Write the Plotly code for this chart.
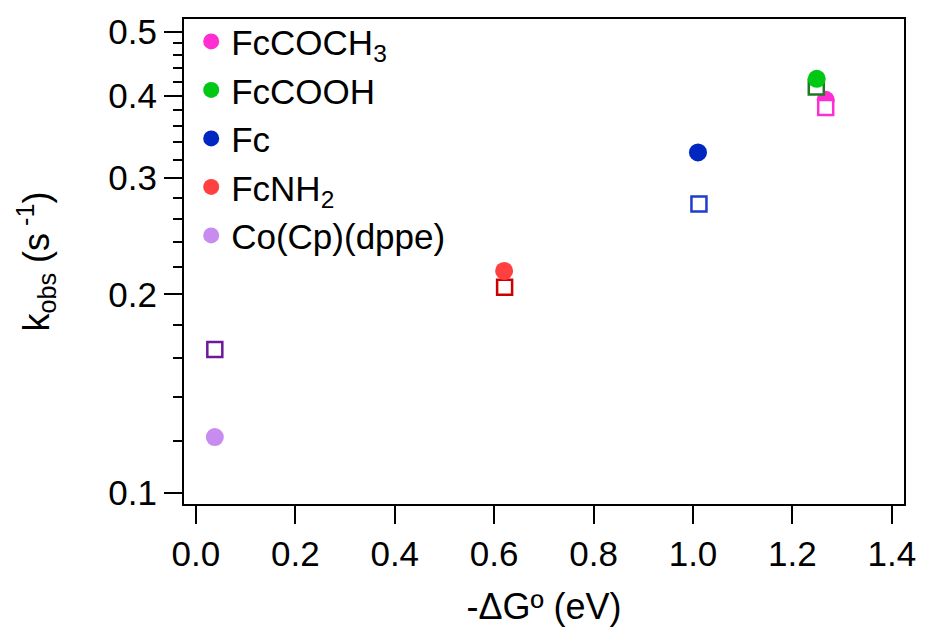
import plotly.graph_objects as go
import numpy as np

# Data
names = ["FcCOCH<sub>3</sub>", "FcCOOH", "Fc", "FcNH<sub>2</sub>", "Co(Cp)(dppe)"]
dG = [1.267, 1.249, 1.010, 0.620, 0.038]
k_circle = [0.394, 0.424, 0.328, 0.217, 0.1216]
dG_sq = [1.267, 1.248, 1.012, 0.621, 0.038]
k_square = [0.3836, 0.412, 0.274, 0.205, 0.165]
circle_colors = ["#FF2DD2", "#00C814", "#0028C0", "#FF4040", "#C88CF0"]
square_colors = ["#FF2DD2", "#1E7A1E", "#1E3CD0", "#CC0000", "#6A1A9A"]

y_major = [0.1, 0.2, 0.3, 0.4, 0.5]
y_major_text = ["0.1", "0.2", "0.3", "0.4", "0.5"]
y_minor = [0.12, 0.14, 0.16, 0.18, 0.22, 0.24, 0.26, 0.28,
           0.32, 0.34, 0.36, 0.38, 0.42, 0.44, 0.46, 0.48]
x_ticks = [0.0, 0.2, 0.4, 0.6, 0.8, 1.0, 1.2, 1.4]
x_ticktext = ["0.0", "0.2", "0.4", "0.6", "0.8", "1.0", "1.2", "1.4"]

fig = go.Figure()

def circle(i, rank):
    fig.add_trace(go.Scatter(
        x=[dG[i]], y=[k_circle[i]], mode="markers", name=names[i],
        marker=dict(symbol="circle", size=18, color=circle_colors[i], line=dict(width=0)),
        legendrank=rank, showlegend=True))

def square(i):
    fig.add_trace(go.Scatter(
        x=[dG_sq[i]], y=[k_square[i]], mode="markers", name=names[i] + " sq",
        marker=dict(symbol="square", size=15, color="white",
                    line=dict(width=2.5, color=square_colors[i])),
        showlegend=False))

# drawing order to mimic overlaps
circle(0, 1)
square(1)
circle(1, 2)
square(0)
square(2)
circle(2, 3)
square(3)
circle(3, 4)
square(4)
circle(4, 5)

font_family = "Liberation Sans, Arial, sans-serif"

fig.update_layout(
    width=928, height=635,
    margin=dict(l=184, r=19, t=16, b=131),
    paper_bgcolor="white", plot_bgcolor="white",
    font=dict(family=font_family, color="black"),
    showlegend=True,
    legend=dict(x=0.01, y=1.014, xanchor="left", yanchor="top",
                bgcolor="rgba(0,0,0,0)", borderwidth=0,
                font=dict(size=35, family=font_family, color="black"),
                tracegroupgap=0, itemsizing="trace"),
    xaxis=dict(
        range=[-0.024, 1.4245], showgrid=False, zeroline=False,
        showline=True, linecolor="black", linewidth=2, mirror=True,
        ticks="outside", ticklen=18, tickwidth=2, tickcolor="black",
        tickvals=x_ticks, ticktext=x_ticktext,
        tickfont=dict(size=35, family=font_family),
        title=dict(text="-ΔGº (eV)", font=dict(size=36, family=font_family), standoff=22),
    ),
    yaxis=dict(
        type="log", range=[np.log10(0.0963), np.log10(0.5223)],
        showgrid=False, zeroline=False,
        showline=True, linecolor="black", linewidth=2, mirror=True,
        ticks="outside", ticklen=18, tickwidth=2, tickcolor="black",
        tickvals=y_major, ticktext=y_major_text,
        tickfont=dict(size=35, family=font_family),
        minor=dict(tickvals=y_minor, ticks="outside", ticklen=9, tickwidth=2,
                   tickcolor="black", showgrid=False),
        title=dict(text="k<sub>obs</sub> (s<sup> -1</sup>)", font=dict(size=36, family=font_family), standoff=48),
    ),
)

fig.write_html("out.html")
